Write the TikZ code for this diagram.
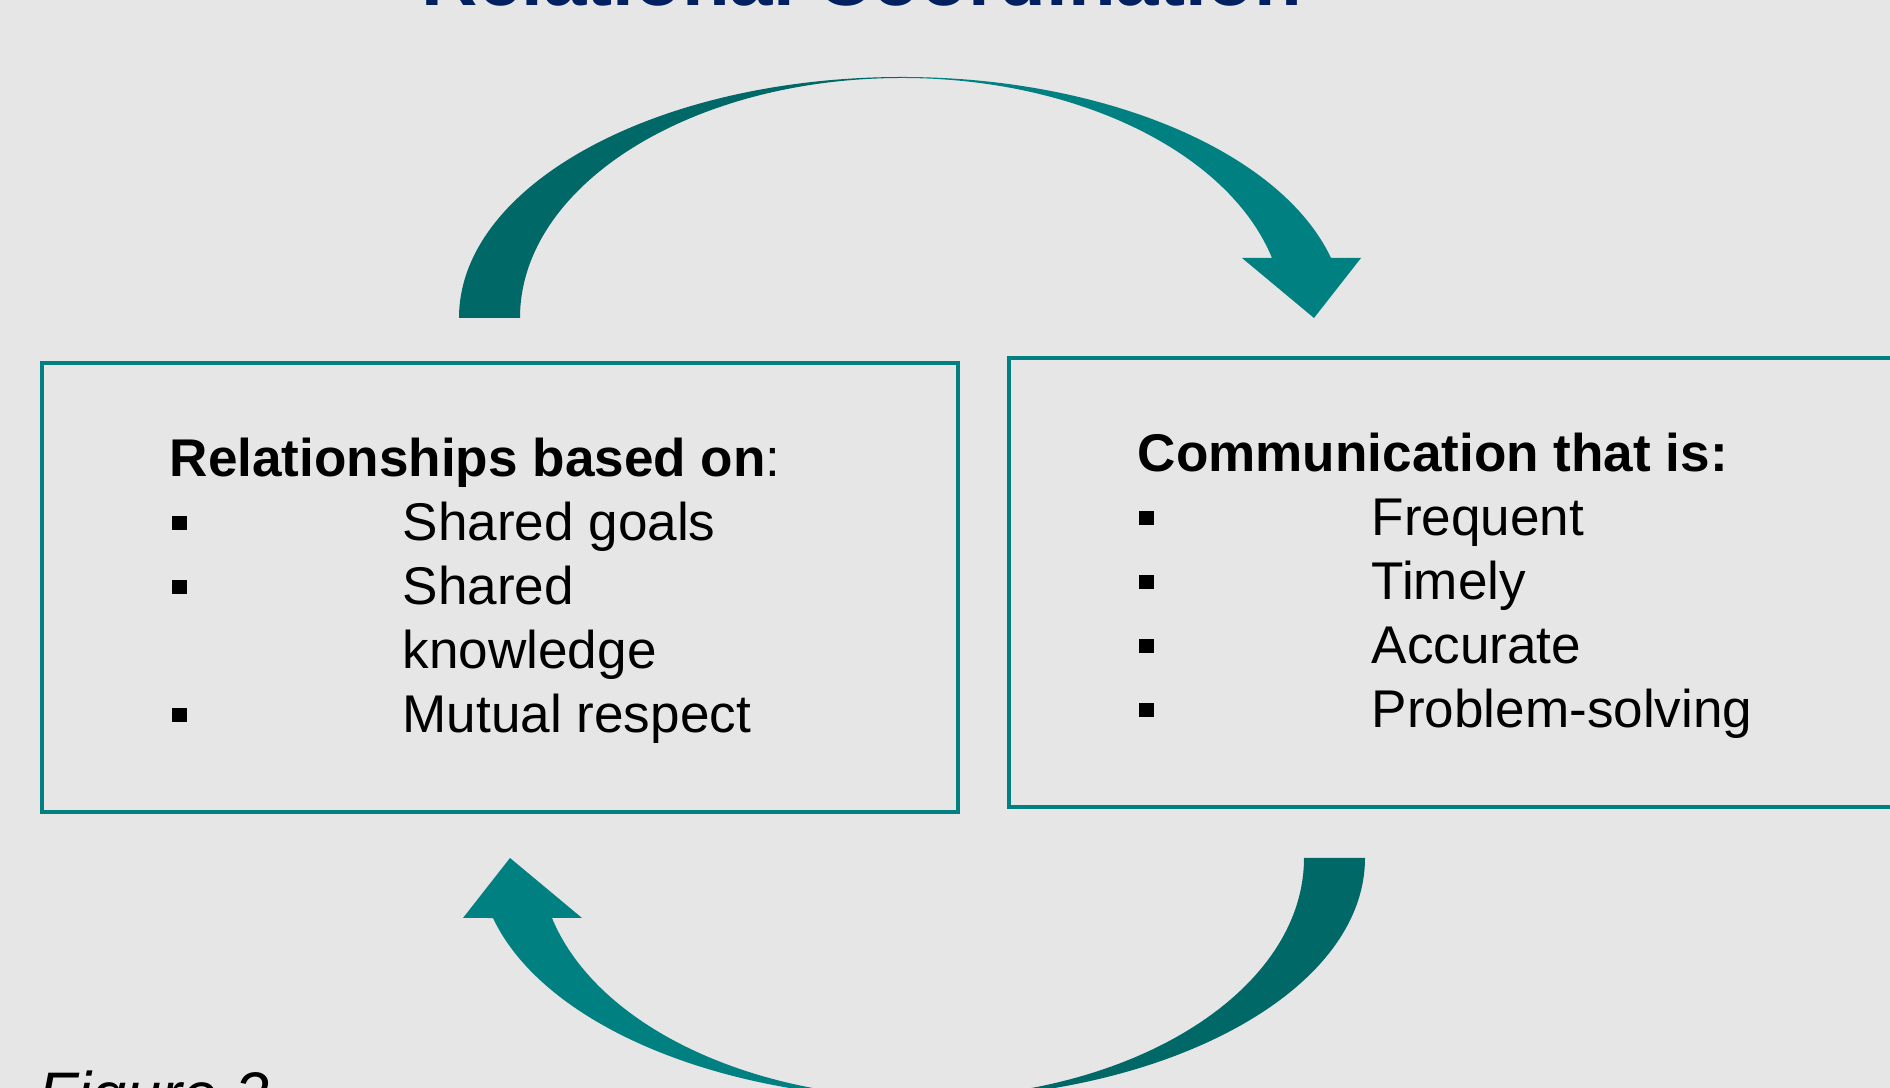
\documentclass[tikz,border=0pt]{standalone}
\usepackage{fontspec}
\setmainfont{Liberation Sans}
\definecolor{bg}{RGB}{230,230,230}
\definecolor{teallight}{RGB}{0,128,128}
\definecolor{tealdark}{RGB}{0,104,102}
\definecolor{navy}{RGB}{0,32,96}

\begin{document}
\begin{tikzpicture}[x=0.01cm,y=0.01cm]
\tikzstyle{head}=[anchor=base west,inner sep=0,font=\bfseries\fontsize{15.1}{18}\selectfont]
\tikzstyle{item}=[anchor=base west,inner sep=0,font=\fontsize{15.1}{18}\selectfont]
\tikzstyle{box}=[teallight,line width=1pt]

\useasboundingbox (0,0) rectangle (1890,1088);
\clip (0,0) rectangle (1890,1088);
\fill[bg] (0,0) rectangle (1890,1088);

\node[anchor=base,inner sep=0,text=navy,font=\bfseries\fontsize{22.2}{26}\selectfont] (title) at (862,1082) {Relational Coordination};

% curved arrows, the lower one is the upper one turned round
\foreach \r in {0,180} {
  \begin{scope}[rotate around={\r:(912,500)}]
    \fill[tealdark] (459,770) arc[start angle=180,end angle=90,x radius=443,y radius=241]
      -- (902,1010) arc[start angle=90,end angle=180,x radius=382,y radius=240] -- cycle;
    \fill[teallight] (902,1011) arc[start angle=90,end angle=14.42,x radius=443,y radius=241]
      -- (1361,830) -- (1314,770) -- (1242,830)
      -- (1272,830) arc[start angle=14.48,end angle=90,x radius=382,y radius=240] -- cycle;
  \end{scope}
}

% left box
\draw[box] (42,276) rectangle (958,725);
\node[head] (relhead) at (169,611) {Relationships based on\textmd{:}};
\foreach \y/\t [count=\i] in {547/Shared goals,483/Shared,419/knowledge,355/Mutual respect}
  \node[item] (rel\i) at (402,\y) {\t};
\foreach \y in {547,483,355}
  \fill (172,\y+11) rectangle ++(15,14);

% right box
\draw[box] (1009,281) rectangle (1930,730);
\node[head] (comhead) at (1137,616) {Communication that is:};
\foreach \y/\t [count=\i] in {552/Frequent,488/Timely,424/Accurate,360/Problem-solving}
  \node[item] (com\i) at (1371,\y) {\t};
\foreach \y in {552,488,424,360}
  \fill (1139,\y+11) rectangle ++(15,14);

\node[anchor=base west,inner sep=0,font=\itshape\fontsize{17.9}{21}\selectfont] (figlabel) at (38,-29) {Figure 2};
\end{tikzpicture}
\end{document}
